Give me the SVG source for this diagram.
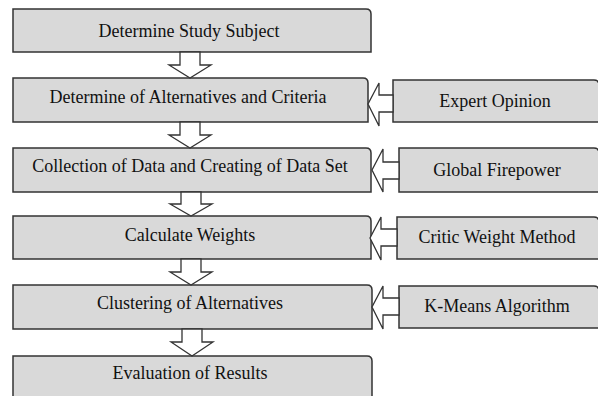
<svg xmlns="http://www.w3.org/2000/svg" width="598" height="396" viewBox="0 0 598 396">
<style>
.box{fill:#d9d9d9;stroke:#333;stroke-width:1.5}
.arr{fill:#fff;stroke:#333;stroke-width:1.3;stroke-linejoin:miter}
.t{font-family:"Liberation Serif","Times New Roman",serif;font-size:18px;fill:#111;text-anchor:middle}
</style>
<rect width="598" height="396" fill="#fff"/>
<g id="n1"><path class="box" d="M13,9 H366 Q371,9 371,14 V52 H13 Z"/><text class="t" x="189" y="37">Determine Study Subject</text></g>
<g id="n2"><path class="box" d="M13,78 H363 Q368,78 368,83 V122 H13 Z"/><text class="t" x="188" y="103">Determine of Alternatives and Criteria</text></g>
<g id="n3"><path class="box" d="M13,148 H366 Q371,148 371,153 V192 H13 Z"/><text class="t" x="190" y="172">Collection of Data and Creating of Data Set</text></g>
<g id="n4"><path class="box" d="M13,216 H366 Q371,216 371,221 V259 H13 Z"/><text class="t" x="190" y="241">Calculate Weights</text></g>
<g id="n5"><path class="box" d="M13,285 H367 Q372,285 372,290 V329 H13 Z"/><text class="t" x="190" y="309">Clustering of Alternatives</text></g>
<g id="n6"><path class="box" d="M13,356 H367 Q372,356 372,361 V400 H13 Z"/><text class="t" x="190" y="379">Evaluation of Results</text></g>
<g id="r1"><path class="box" d="M393,122 V80 H594 Q599,80 599,85 V122 Z"/><text class="t" x="495" y="107">Expert Opinion</text></g>
<g id="r2"><path class="box" d="M399,192 V148 H594 Q599,148 599,153 V192 Z"/><text class="t" x="497" y="176">Global Firepower</text></g>
<g id="r3"><path class="box" d="M397,259 V217 H594 Q599,217 599,222 V259 Z"/><text class="t" x="497" y="243">Critic Weight Method</text></g>
<g id="r4"><path class="box" d="M399,328 V286 H594 Q599,286 599,291 V328 Z"/><text class="t" x="497" y="312">K-Means Algorithm</text></g>
<g id="connectors">
<path class="arr" d="M180,52 H200 V65 H211 L190,78 L169,65 H180 Z"/>
<path class="arr" d="M180,122 H200 V135 H211 L190,148 L169,135 H180 Z"/>
<path class="arr" d="M181,192 H201 V204 H212 L191,216 L170,204 H181 Z"/>
<path class="arr" d="M181,259 H201 V272 H212 L191,285 L170,272 H181 Z"/>
<path class="arr" d="M182,329 H202 V342 H213 L192,356 L171,342 H182 Z"/>
<path class="arr" d="M393,95 V112 H379 V126 L368,104 L379,83 V95 Z"/>
<path class="arr" d="M399,162 V179 H383 V192 L372,170 L383,149 V162 Z"/>
<path class="arr" d="M397,229 V246 H381 V260 L370,238 L381,217 V229 Z"/>
<path class="arr" d="M399,298 V315 H383 V329 L372,307 L383,286 V298 Z"/>
</g>
</svg>
